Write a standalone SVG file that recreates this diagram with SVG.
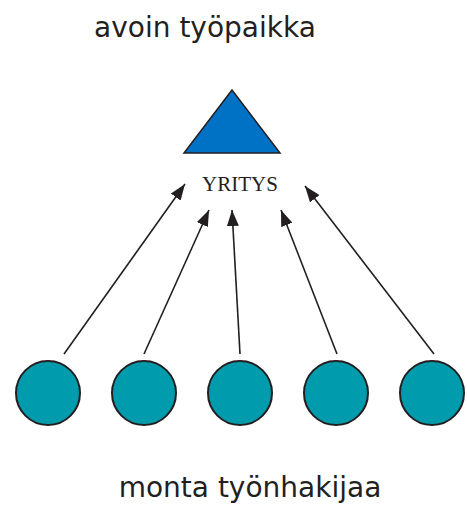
<svg xmlns="http://www.w3.org/2000/svg" width="467" height="508" viewBox="0 0 467 508">
<style>
.node{fill:#009bac;stroke:#231f20;stroke-width:2}
.edge{stroke:#231f20;stroke-width:1.6;fill:none;marker-end:url(#ah)}
.lbl{font-family:"DejaVu Sans","Open Sans",sans-serif;font-size:28px;fill:#231f20}
</style>
<defs>
<marker id="ah" viewBox="0 0 16 12" refX="16" refY="6" markerWidth="16" markerHeight="12" markerUnits="userSpaceOnUse" orient="auto">
<path d="M0,0 L16,6 L0,12 Z" fill="#231f20"/>
</marker>
</defs>
<rect width="467" height="508" fill="#fff"/>
<text class="lbl" x="205" y="37" text-anchor="middle">avoin työpaikka</text>
<g id="yritys">
<polygon points="232,90 184,153 280,153" fill="#0072c6" stroke="#231f20" stroke-width="1.5"/>
<text x="240" y="191" text-anchor="middle" font-family="Liberation Serif,serif" font-size="21" fill="#231f20">YRITYS</text>
</g>
<g id="connectors">
<line class="edge" x1="64" y1="354" x2="185" y2="184"/>
<line class="edge" x1="144" y1="354" x2="209" y2="210"/>
<line class="edge" x1="240" y1="354" x2="232" y2="210"/>
<line class="edge" x1="337" y1="354" x2="281" y2="210"/>
<line class="edge" x1="434" y1="354" x2="305" y2="186"/>
</g>
<g id="hakija1"><circle class="node" cx="48" cy="393" r="32"/></g>
<g id="hakija2"><circle class="node" cx="144" cy="393" r="32"/></g>
<g id="hakija3"><circle class="node" cx="240" cy="393" r="32"/></g>
<g id="hakija4"><circle class="node" cx="336" cy="393" r="32"/></g>
<g id="hakija5"><circle class="node" cx="432" cy="393" r="32"/></g>
<text class="lbl" x="250" y="497" text-anchor="middle">monta työnhakijaa</text>
</svg>
